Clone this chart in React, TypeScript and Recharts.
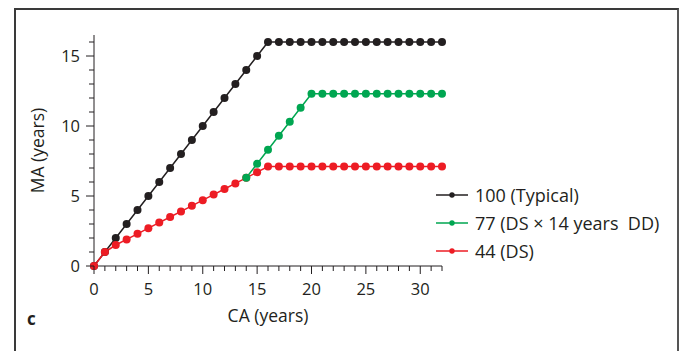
import { Legend, Line, LineChart, XAxis, YAxis } from 'recharts';

const ca = [
  0, 1, 2, 3, 4, 5, 6, 7, 8, 9, 10, 11, 12, 13, 14, 15, 16, 17, 18, 19, 20, 21, 22, 23, 24, 25, 26, 27,
  28, 29, 30, 31, 32,
];
const typical = [
  0, 1, 2, 3, 4, 5, 6, 7, 8, 9, 10, 11, 12, 13, 14, 15, 16, 16, 16, 16, 16, 16, 16, 16, 16, 16, 16, 16,
  16, 16, 16, 16, 16,
];
const dsDd = [
  null, null, null, null, null, null, null, null, null, null, null, null, null, null, 6.3, 7.3, 8.3, 9.3,
  10.3, 11.3, 12.3, 12.3, 12.3, 12.3, 12.3, 12.3, 12.3, 12.3, 12.3, 12.3, 12.3, 12.3, 12.3,
];
const ds = [
  0, 1.0, 1.5, 1.9, 2.3, 2.7, 3.1, 3.5, 3.9, 4.3, 4.7, 5.1, 5.5, 5.9, 6.3, 6.7, 7.1, 7.1, 7.1, 7.1, 7.1,
  7.1, 7.1, 7.1, 7.1, 7.1, 7.1, 7.1, 7.1, 7.1, 7.1, 7.1, 7.1,
];
const xTicks = ca;
const yTicks = [0, 1, 2, 3, 4, 5, 6, 7, 8, 9, 10, 11, 12, 13, 14, 15, 16];
const legendOrder = ['100 (Typical)', '77 (DS \u00d7 14 years  DD)', '44 (DS)'];

const data = ca.map((x, i) => ({ ca: x, typical: typical[i], dsDd: dsDd[i], ds: ds[i] }));

const INK = '#231f20';
const FONT = '"Open Sans", sans-serif';

const XTick = (props: any) => {
  const { x, y, payload } = props;
  const major = payload.value % 5 === 0;
  return (
    <g>
      <line x1={x} x2={x} y1={y} y2={y + (major ? 8 : 5)} stroke={INK} strokeWidth={1} />
      {major && (
        <text x={x} y={y + 29} textAnchor="middle" fontSize={16.5} fontFamily={FONT} fill={INK}>
          {payload.value}
        </text>
      )}
    </g>
  );
};

const YTick = (props: any) => {
  const { x, y, payload } = props;
  const major = payload.value % 5 === 0;
  return (
    <g>
      <line x1={x - (major ? 8 : 5)} x2={x} y1={y} y2={y} stroke={INK} strokeWidth={1} />
      {major && (
        <text x={x - 14} y={y + 6} textAnchor="end" fontSize={16.5} fontFamily={FONT} fill={INK}>
          {payload.value}
        </text>
      )}
    </g>
  );
};

const LegendBox = (props: any) => {
  const items = [...props.payload].sort(
    (a: any, b: any) => legendOrder.indexOf(a.value) - legendOrder.indexOf(b.value),
  );
  return (
    <div style={{ fontFamily: FONT, fontSize: 18, color: INK }}>
      {items.map((p: any) => (
        <div key={p.value} style={{ display: 'flex', alignItems: 'center', height: 28 }}>
          <svg width={32} height={10} style={{ marginRight: 7 }}>
            <line x1={0} x2={32} y1={5} y2={5} stroke={p.color} strokeWidth={1.5} />
            <circle cx={16} cy={5} r={2.7} fill={p.color} />
          </svg>
          <span style={{ whiteSpace: 'pre' }}>{p.value}</span>
        </div>
      ))}
    </div>
  );
};

export default function App() {
  return (
    <div style={{ position: 'absolute', left: 0, top: 0, width: 691, height: 351, overflow: 'hidden', background: '#fff' }}>
      <div
        style={{
          position: 'absolute',
          left: 14,
          top: 8,
          width: 661,
          height: 400,
          borderTop: '2px solid #3a3a3a',
          borderLeft: '2px solid #3a3a3a',
          borderRight: '2px solid #555',
        }}
      />
      <LineChart
        width={691}
        height={351}
        data={data}
        margin={{ top: 35, right: 249, bottom: 25, left: 34 }}
        style={{ position: 'absolute', left: 0, top: 0 }}
      >
        <XAxis
          dataKey="ca"
          type="number"
          domain={[0, 32]}
          ticks={xTicks}
          interval={0}
          tickLine={false}
          tickSize={0}
          tickMargin={0}
          tick={<XTick />}
          height={60}
          axisLine={{ stroke: INK, strokeWidth: 1 }}
          label={{
            value: 'CA (years)',
            position: 'insideBottom',
            offset: 4,
            style: { fontFamily: FONT, fontSize: 17.5, fill: INK },
          }}
        />
        <YAxis
          type="number"
          domain={[0, 16.5]}
          ticks={yTicks}
          interval={0}
          tickLine={false}
          tickSize={0}
          tickMargin={0}
          tick={<YTick />}
          width={60}
          axisLine={{ stroke: INK, strokeWidth: 1 }}
          label={{
            value: 'MA (years)',
            angle: -90,
            position: 'insideLeft',
            offset: 4,
            style: { fontFamily: FONT, fontSize: 17.5, fill: INK, textAnchor: 'middle' },
          }}
        />
        <Legend
          layout="vertical"
          align="center"
          verticalAlign="middle"
          content={<LegendBox />}
          wrapperStyle={{ left: 436, top: 181, width: 250 }}
        />
        <Line
          dataKey="typical"
          name="100 (Typical)"
          stroke={INK}
          strokeWidth={1.5}
          dot={{ r: 4, fill: INK, stroke: 'none' }}
          isAnimationActive={false}
        />
        <Line
          dataKey="ds"
          name="44 (DS)"
          stroke="#ed1c24"
          strokeWidth={1.5}
          dot={{ r: 4, fill: '#ed1c24', stroke: 'none' }}
          isAnimationActive={false}
        />
        <Line
          dataKey="dsDd"
          name={'77 (DS \u00d7 14 years  DD)'}
          stroke="#00a651"
          strokeWidth={1.5}
          dot={{ r: 4, fill: '#00a651', stroke: 'none' }}
          connectNulls={false}
          isAnimationActive={false}
        />
      </LineChart>
      <div
        style={{
          position: 'absolute',
          left: 27,
          top: 307,
          fontFamily: FONT,
          fontWeight: 700,
          fontSize: 17,
          color: INK,
        }}
      >
        c
      </div>
    </div>
  );
}
